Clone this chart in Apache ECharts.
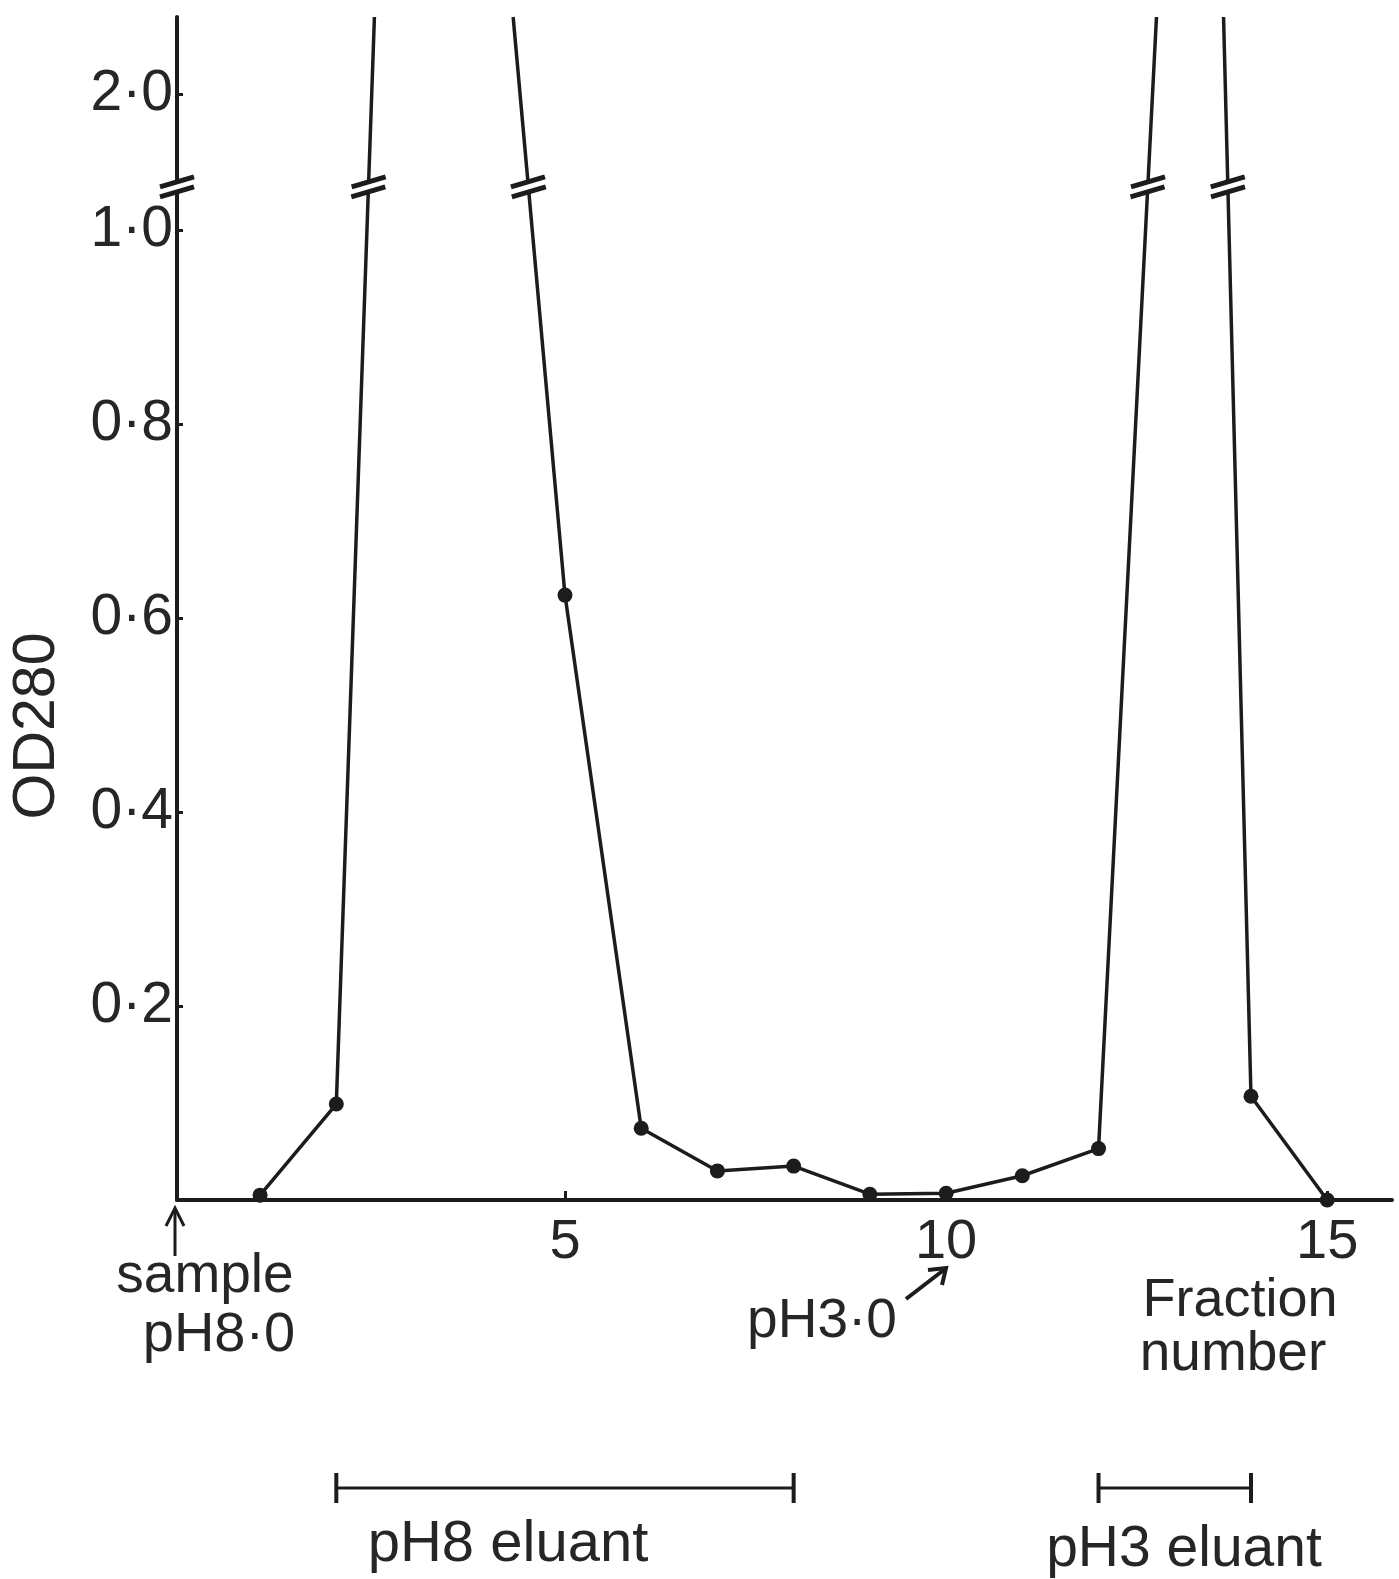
<!DOCTYPE html>
<html>
<head>
<meta charset="utf-8">
<script src="https://cdn.jsdelivr.net/npm/echarts@6/dist/echarts.min.js"></script>
<style>
  html, body { margin: 0; padding: 0; background: #ffffff; }
  #chart { width: 1399px; height: 1579px; }
</style>
</head>
<body>
<div id="chart"></div>
<script>
// ---------------- data ----------------
const fractions = [1, 2, 5, 6, 7, 8, 9, 10, 11, 12, 14, 15];
const od280     = [0.005, 0.099, 0.624, 0.074, 0.030, 0.035, 0.006, 0.007, 0.025, 0.053, 0.107, 0.0];

// off-scale peaks: fraction positions where the curve leaves / re-enters the top of the plot
const peakRiseX = [2.50, 12.76];
const peakFallX = [4.32, 13.64];
const peakTopOD = 2.08;

// broken OD axis
const yTicks = [0.2, 0.4, 0.6, 0.8, 1.0, 2.0];
const xTicks = [5, 10, 15];
const breakStart = 1.04;
const breakEnd = 1.91;

// eluant bars under the axis
const eluantNames = ['pH8 eluant', 'pH3 eluant'];
const eluantFrom  = [2, 12];
const eluantTo    = [8, 14];

// axis extent
const X_MIN = -0.09;
const X_MAX = 15.85;

// ---------------- build series data ----------------
const pts = fractions.map((f, i) => ({ x: f, y: od280[i], off: false }));
peakRiseX.forEach(x => pts.push({ x: x, y: peakTopOD, off: true, rise: true }));
peakFallX.forEach(x => pts.push({ x: x, y: peakTopOD, off: true, rise: false }));
pts.sort((a, b) => a.x - b.x);

const lineData = [];
const rawPairs = [];
pts.forEach(p => {
  lineData.push(p.off ? { value: [p.x, p.y], symbol: 'none' } : { value: [p.x, p.y] });
  rawPairs.push([p.x, p.y]);
  if (p.off && p.rise) { lineData.push({ value: [p.x + 0.01, '-'] }); rawPairs.push(null); }
});

// segments that cross the axis break (to draw the "//" marks)
const breakSegs = [[X_MIN, 0, X_MIN, peakTopOD]];
for (let i = 0; i < rawPairs.length - 1; i++) {
  const a = rawPairs[i], b = rawPairs[i + 1];
  if (!a || !b) continue;
  const lo = Math.min(a[1], b[1]), hi = Math.max(a[1], b[1]);
  if (lo < breakStart && hi > breakEnd) {
    const low = a[1] < b[1] ? a : b, high = a[1] < b[1] ? b : a;
    breakSegs.push([low[0], low[1], high[0], high[1]]);
  }
}

const eluantData = eluantNames.map((n, i) => [[eluantFrom[i], 0.5], [eluantTo[i], 0.5]]);

const INK = '#1c1c1c';
const TXT = '#262626';
const FONT = '"Liberation Sans", Arial, Helvetica, sans-serif';
const fmt = v => v.toFixed(1).replace('.', '\u00B7');

const chart = echarts.init(document.getElementById('chart'), null, { renderer: 'canvas' });

const option = {
  animation: false,
  backgroundColor: '#ffffff',
  textStyle: { fontFamily: FONT },
  grid: [
    { left: 177, right: 7, top: 17, bottom: 379, containLabel: false },
    { left: 177, right: 7, top: 1468, height: 40, containLabel: false }
  ],
  xAxis: [
    {
      type: 'value', gridIndex: 0, min: X_MIN, max: X_MAX,
      axisLine: { show: true, onZero: false, lineStyle: { color: INK, width: 4 } },
      axisTick: { show: true, inside: true, length: 9, customValues: xTicks, lineStyle: { color: INK, width: 3 } },
      axisLabel: { customValues: xTicks, fontSize: 56, color: TXT, margin: 15, fontFamily: FONT },
      splitLine: { show: false }
    },
    {
      type: 'value', gridIndex: 1, min: X_MIN, max: X_MAX, show: false
    }
  ],
  yAxis: [
    {
      type: 'value', gridIndex: 0, min: 0, max: peakTopOD,
      breaks: [{ start: breakStart, end: breakEnd, gap: '0.85%' }],
      breakArea: { show: false },
      axisLine: { show: true, onZero: false, lineStyle: { color: INK, width: 4 } },
      axisTick: { show: true, inside: true, length: 6, customValues: yTicks, lineStyle: { color: INK, width: 3 } },
      axisLabel: { customValues: yTicks, formatter: fmt, fontSize: 57, color: TXT, margin: 4, fontFamily: FONT },
      splitLine: { show: false }
    },
    {
      type: 'value', gridIndex: 1, min: 0, max: 1, show: false
    }
  ],
  series: [
    {
      type: 'line', xAxisIndex: 0, yAxisIndex: 0,
      data: lineData,
      connectNulls: false,
      symbol: 'circle', symbolSize: 15,
      itemStyle: { color: INK },
      lineStyle: { color: INK, width: 3.5 },
      clip: true, z: 3
    },
    {
      type: 'custom', xAxisIndex: 0, yAxisIndex: 0,
      data: breakSegs,
      encode: { x: [0, 2], y: [1, 3] },
      clip: false, z: 10,
      renderItem: function (params, api) {
        const p1 = api.coord([api.value(0), api.value(1)]);
        const p2 = api.coord([api.value(2), api.value(3)]);
        const yHi = api.coord([0, breakEnd])[1];
        const yLo = api.coord([0, breakStart])[1];
        const xAt = y => (p2[1] === p1[1]) ? p1[0] : p1[0] + (p2[0] - p1[0]) * (y - p1[1]) / (p2[1] - p1[1]);
        const xh = xAt(yHi), xl = xAt(yLo);
        const hw = 17, hr = 5;
        return {
          type: 'group',
          children: [
            { type: 'polygon', shape: { points: [[xh - hw - 2, yHi + hr], [xh + hw + 2, yHi - hr - 1], [xl + hw + 2, yLo - hr], [xl - hw - 2, yLo + hr + 1]] }, style: { fill: '#ffffff' } },
            { type: 'line', shape: { x1: xh - hw, y1: yHi + hr, x2: xh + hw, y2: yHi - hr }, style: { stroke: INK, lineWidth: 5 } },
            { type: 'line', shape: { x1: xl - hw, y1: yLo + hr, x2: xl + hw, y2: yLo - hr }, style: { stroke: INK, lineWidth: 5 } }
          ]
        };
      }
    }
  ].concat(eluantData.map(d => ({
    type: 'line', xAxisIndex: 1, yAxisIndex: 1,
    data: d,
    symbol: 'rect', symbolSize: [4, 30],
    itemStyle: { color: INK },
    lineStyle: { color: INK, width: 3 },
    z: 3
  }))),
  graphic: [
    { type: 'text', x: 38, y: 726, rotation: Math.PI / 2, style: { text: 'OD280', font: '59px ' + FONT, fill: TXT, align: 'center', verticalAlign: 'middle' } },
    { type: 'text', x: 205, y: 1277, style: { text: 'sample', font: '55px ' + FONT, fill: TXT, align: 'center', verticalAlign: 'middle' } },
    { type: 'text', x: 219, y: 1336, style: { text: 'pH8\u00B70', font: '56px ' + FONT, fill: TXT, align: 'center', verticalAlign: 'middle' } },
    { type: 'text', x: 822, y: 1322, style: { text: 'pH3\u00B70', font: '55px ' + FONT, fill: TXT, align: 'center', verticalAlign: 'middle' } },
    { type: 'text', x: 1240, y: 1301, style: { text: 'Fraction', font: '54px ' + FONT, fill: TXT, align: 'center', verticalAlign: 'middle' } },
    { type: 'text', x: 1233, y: 1355, style: { text: 'number', font: '55px ' + FONT, fill: TXT, align: 'center', verticalAlign: 'middle' } },
    { type: 'text', x: 508, y: 1545, style: { text: eluantNames[0], font: '58px ' + FONT, fill: TXT, align: 'center', verticalAlign: 'middle' } },
    { type: 'text', x: 1184, y: 1550, style: { text: eluantNames[1], font: '57px ' + FONT, fill: TXT, align: 'center', verticalAlign: 'middle' } },
    // arrow: sample
    { type: 'line', shape: { x1: 175, y1: 1256, x2: 175, y2: 1210 }, style: { stroke: INK, lineWidth: 3 } },
    { type: 'polyline', shape: { points: [[166, 1226], [175, 1208], [184, 1226]] }, style: { stroke: INK, lineWidth: 3, fill: null } },
    // arrow: pH3.0
    { type: 'line', shape: { x1: 906, y1: 1299, x2: 945, y2: 1269 }, style: { stroke: INK, lineWidth: 4 } },
    { type: 'polyline', shape: { points: [[928, 1270], [946, 1268], [942, 1285]] }, style: { stroke: INK, lineWidth: 4, fill: null } }
  ]
};
chart.setOption(option);
</script>
</body>
</html>
